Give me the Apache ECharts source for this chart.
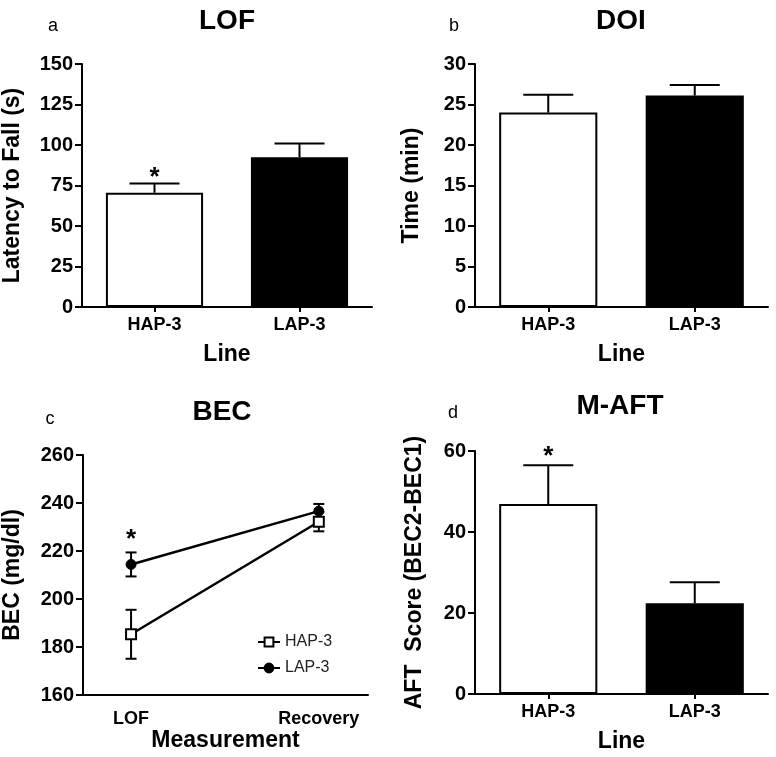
<!DOCTYPE html>
<html>
<head>
<meta charset="utf-8">
<script src="https://cdn.jsdelivr.net/npm/echarts@6/dist/echarts.min.js"></script>
<style>
html,body{margin:0;padding:0;background:#fff;}
#chart{width:776px;height:757px;}
</style>
</head>
<body>
<div id="chart"></div>
<script>
// ---- data ----
const lineCats = ['HAP-3', 'LAP-3'];
// a: LOF
const lofMeans = [70.5, 92.5];
const lofErr = [5.8, 8.5];
const lofSig = [true, false];
// b: DOI
const doiMeans = [24.0, 26.1];
const doiErr = [2.2, 1.3];
const doiSig = [false, false];
// c: BEC
const becCats = ['LOF', 'Recovery'];
const becHap = [185.3, 232.2];
const becHapErr = [10.2, 4.0];
const becLap = [214.4, 236.6];
const becLapErr = [5.0, 3.0];
const becLapSig = [true, false];
// d: M-AFT
const maftMeans = [46.9, 22.4];
const maftErr = [9.6, 5.2];
const maftSig = [true, false];
// tick settings
const lofTicks = {min: 0, max: 150, interval: 25};
const doiTicks = {min: 0, max: 30, interval: 5};
const becTicks = {min: 160, max: 260, interval: 20};
const maftTicks = {min: 0, max: 60, interval: 20};

const FONT = 'Liberation Sans, Arial, sans-serif';
const barFills = ['#ffffff', '#000000'];

function barData(means) {
  return means.map((v, i) => ({
    value: v,
    itemStyle: {color: barFills[i], borderColor: '#000', borderWidth: 2}
  }));
}
function errData(means, errs, sig) {
  return means.map((m, i) => [i, m, errs[i], sig[i] ? 1 : 0]);
}

function makeErrRender(capW, both, starOffset) {
  return function (params, api) {
    const x = api.value(0), m = api.value(1), e = api.value(2), s = api.value(3);
    const p0 = api.coord([x, both ? m - e : m]);
    const p1 = api.coord([x, m + e]);
    const st = {stroke: '#000', lineWidth: 2};
    const children = [
      {type: 'line', shape: {x1: p0[0], y1: p0[1], x2: p1[0], y2: p1[1]}, style: st},
      {type: 'line', shape: {x1: p1[0] - capW / 2, y1: p1[1], x2: p1[0] + capW / 2, y2: p1[1]}, style: st}
    ];
    if (both) {
      children.push({type: 'line', shape: {x1: p0[0] - capW / 2, y1: p0[1], x2: p0[0] + capW / 2, y2: p0[1]}, style: st});
    }
    if (s) {
      children.push({type: 'text', style: {text: '*', x: p1[0], y: p1[1] - starOffset, align: 'center', verticalAlign: 'middle', font: 'bold 26px ' + FONT, fill: '#000'}});
    }
    return {type: 'group', children: children};
  };
}

const axisLineStyle = {show: true, onZero: false, lineStyle: {color: '#000', width: 2}};
const yLabel = {color: '#000', fontSize: 20, fontWeight: 'bold', fontFamily: FONT, margin: 9};
const xLabel = {color: '#000', fontSize: 18, fontWeight: 'bold', fontFamily: FONT, margin: 9};
const nameStyle = {color: '#000', fontSize: 23, fontWeight: 'bold', fontFamily: FONT};

function yAxisDef(grid, ticks, name, gap) {
  return {
    type: 'value', gridIndex: grid, min: ticks.min, max: ticks.max, interval: ticks.interval,
    name: name, nameLocation: 'middle', nameGap: gap, nameRotate: 90, nameTextStyle: nameStyle,
    axisLine: axisLineStyle, axisTick: {show: true, length: 7, lineStyle: {color: '#000', width: 2}},
    axisLabel: yLabel, splitLine: {show: false}
  };
}
function xCatDef(grid, name) {
  return {
    type: 'category', gridIndex: grid, data: lineCats,
    name: name, nameLocation: 'middle', nameGap: 36, nameTextStyle: nameStyle,
    axisLine: axisLineStyle, axisTick: {show: true, alignWithLabel: true, length: 5, lineStyle: {color: '#000', width: 2}},
    axisLabel: xLabel, splitLine: {show: false}
  };
}

const titleStyle = {color: '#000', fontSize: 28, fontWeight: 'bold', fontFamily: FONT};
const letterStyle = {color: '#000', fontSize: 18, fontWeight: 'normal', fontFamily: FONT};
function T(text, x, y, style) {
  return {text: text, left: x, top: y, textAlign: 'center', padding: 0, textStyle: style};
}

const option = {
  backgroundColor: '#fff',
  animation: false,
  title: [
    T('LOF', 227, 7, titleStyle),
    T('DOI', 621, 7, titleStyle),
    T('BEC', 222, 398, titleStyle),
    T('M-AFT', 620, 392, titleStyle),
    T('a', 53, 17, letterStyle),
    T('b', 454, 17, letterStyle),
    T('c', 50, 410, letterStyle),
    T('d', 453, 404, letterStyle)
  ],
  legend: {
    data: ['HAP-3', 'LAP-3'], orient: 'vertical', left: 257, top: 634,
    itemWidth: 22, itemHeight: 11, itemGap: 10, padding: 0,
    textStyle: {color: '#222', fontSize: 16, fontFamily: FONT}
  },
  grid: [
    {left: 80, top: 64, width: 292, height: 243},
    {left: 475, top: 64, width: 293, height: 243},
    {left: 78, top: 455, width: 290, height: 240},
    {left: 475, top: 451, width: 293, height: 243}
  ],
  xAxis: [
    xCatDef(0, 'Line'),
    xCatDef(1, 'Line'),
    {
      type: 'value', gridIndex: 2, min: -0.256, max: 1.262,
      name: 'Measurement', nameLocation: 'middle', nameGap: 33, nameTextStyle: nameStyle,
      axisLine: axisLineStyle, axisTick: {show: false},
      axisLabel: Object.assign({}, xLabel, {margin: 15, customValues: [0, 1], formatter: v => becCats[Math.round(v)]}),
      splitLine: {show: false}
    },
    xCatDef(3, 'Line')
  ],
  yAxis: [
    yAxisDef(0, lofTicks, 'Latency to Fall (s)', 58),
    yAxisDef(1, doiTicks, 'Time (min)', 52),
    yAxisDef(2, becTicks, 'BEC (mg/dl)', 59),
    yAxisDef(3, maftTicks, 'AFT  Score (BEC2-BEC1)', 49)
  ],
  series: [
    {type: 'bar', xAxisIndex: 0, yAxisIndex: 0, barWidth: '67%', data: barData(lofMeans), z: 2},
    {type: 'custom', xAxisIndex: 0, yAxisIndex: 0, renderItem: makeErrRender(50, false, 6), data: errData(lofMeans, lofErr, lofSig), z: 3},
    {type: 'bar', xAxisIndex: 1, yAxisIndex: 1, barWidth: '67%', data: barData(doiMeans), z: 2},
    {type: 'custom', xAxisIndex: 1, yAxisIndex: 1, renderItem: makeErrRender(50, false, 6), data: errData(doiMeans, doiErr, doiSig), z: 3},
    {type: 'bar', xAxisIndex: 3, yAxisIndex: 3, barWidth: '67%', data: barData(maftMeans), z: 2},
    {type: 'custom', xAxisIndex: 3, yAxisIndex: 3, renderItem: makeErrRender(50, false, 8), data: errData(maftMeans, maftErr, maftSig), z: 3},
    {type: 'custom', xAxisIndex: 2, yAxisIndex: 2, renderItem: makeErrRender(11, true, 13), data: errData(becHap, becHapErr, [false, false]), z: 2},
    {type: 'custom', xAxisIndex: 2, yAxisIndex: 2, renderItem: makeErrRender(11, true, 13), data: errData(becLap, becLapErr, becLapSig), z: 2},
    {
      name: 'HAP-3', type: 'line', xAxisIndex: 2, yAxisIndex: 2,
      data: becHap.map((v, i) => [i, v]), symbol: 'rect', symbolSize: 10,
      lineStyle: {color: '#000', width: 2.5}, itemStyle: {color: '#fff', borderColor: '#000', borderWidth: 2}, z: 4
    },
    {
      name: 'LAP-3', type: 'line', xAxisIndex: 2, yAxisIndex: 2,
      data: becLap.map((v, i) => [i, v]), symbol: 'circle', symbolSize: 10,
      lineStyle: {color: '#000', width: 2.5}, itemStyle: {color: '#000', borderColor: '#000', borderWidth: 1}, z: 5
    }
  ]
};

const chart = echarts.init(document.getElementById('chart'), null, {renderer: 'canvas'});
chart.setOption(option);
</script>
</body>
</html>
